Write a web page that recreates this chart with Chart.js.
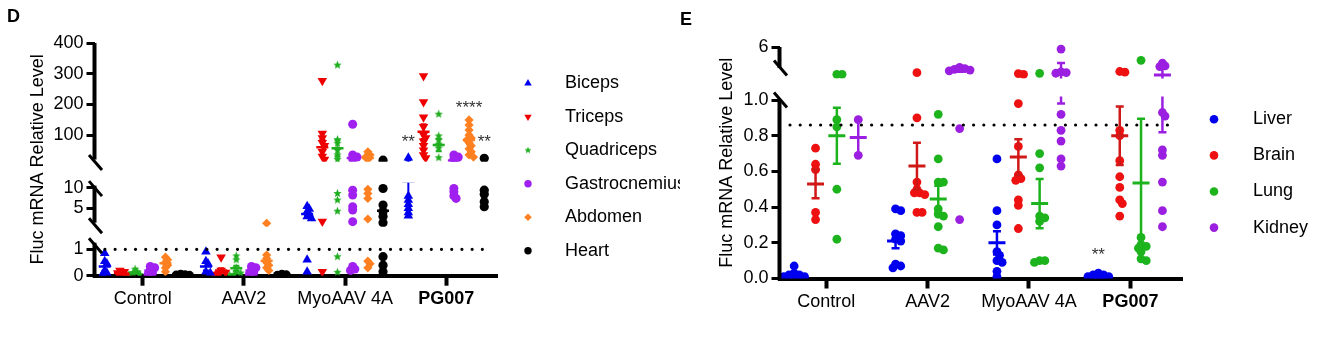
<!DOCTYPE html>
<html><head><meta charset="utf-8">
<script src="https://cdn.jsdelivr.net/npm/chart.js@4.4.1/dist/chart.umd.min.js"></script>
<style>
html,body{margin:0;padding:0;background:#fff;width:1331px;height:341px;overflow:hidden}
#pd{position:absolute;left:0;top:0;width:680px;height:341px;overflow:hidden}
#pe{position:absolute;left:680px;top:0;width:651px;height:341px;overflow:hidden}
canvas{display:block}
</style></head><body>
<div id="pd"><canvas id="cd" width="680" height="341"></canvas></div>
<div id="pe"><canvas id="ce" width="651" height="341"></canvas></div>
<script>
// ---------------- DATA ----------------
const categories = ['Control', 'AAV2', 'MyoAAV 4A', 'PG007'];
const yTitle = 'Fluc mRNA Relative Level';

// Panel D
const dSeries = ['Biceps', 'Triceps', 'Quadriceps', 'Gastrocnemius', 'Abdomen', 'Heart'];
const dTicks = [0, 1, 5, 10, 100, 200, 300, 400];
const dTickLabels = ['0', '1', '5', '10', '100', '200', '300', '400'];
const dThreshold = 1;
const dThresholdSpan = [-0.373, 3.43];
const dBiceps = [[0.85, 0.55, 0.45, 0.2, 0.1, 0.05], [0.91, 0.55, 0.45, 0.15, 0.1], [5.5, 4.8, 4.2, 3.6, 3.0, 2.5, 0.6, 0.15], [26, 8.0, 7.0, 6.0, 5.0, 4.0, 3.2]];
const dTriceps = [[0.2, 0.15, 0.1, 0.05, 0.03], [0.7, 0.2, 0.12, 0.08, 0.05], [277, 105, 90, 75, 65, 45, 30, 20, 1.8, 0.15], [292, 208, 158, 127, 100, 90, 80, 65, 50, 35, 25]];
const dQuadriceps = [[0.25, 0.15, 0.1, 0.05, 0.02], [0.75, 0.6, 0.3, 0.15, 0.1, 0.05, 0.03], [328, 85, 73, 50, 35, 20, 8.6, 7.0, 4.3, 0.72, 0.13], [168, 97, 84, 70, 57, 26]];
const dGastrocnemius = [[0.35, 0.3, 0.2, 0.1, 0.05], [0.35, 0.3, 0.2, 0.1, 0.05], [135, 35, 28, 22, 9.4, 8.2, 5.4, 4.6, 1.75, 0.35, 0.25, 0.2], [35, 28, 22, 9.8, 9.0, 8.0, 7.4]];
const dAbdomen = [[0.7, 0.6, 0.5, 0.4, 0.3, 0.15], [1.36, 0.78, 0.65, 0.5, 0.4, 0.3, 0.2], [45, 35, 28, 20, 9.6, 8.6, 7.4, 2.4, 0.55, 0.45, 0.3], [149, 133, 116, 100, 90, 84, 75, 65, 55, 45, 35, 28]];
const dHeart = [[0.05, 0.03, 0.02, 0.01], [0.05, 0.03, 0.01], [18, 9.8, 5.8, 4.2, 3.0, 1.5, 0.72, 0.4, 0.15], [24, 9.4, 8.4, 6.6, 5.4]];
const dMeanBiceps = [0.35, 0.35, 3.6, 11.5], dSemBiceps = [0.15, 0.15, 0.4, 6.0];
const dMeanTriceps = [0.1, 0.2, 60, 111], dSemTriceps = [0.03, 0.08, 24, 24];
const dMeanQuadriceps = [0.12, 0.28, 57, 67], dSemQuadriceps = [0.04, 0.1, 27, 20];
const dMeanGastrocnemius = [0.2, 0.2, 25, 17], dSemGastrocnemius = [0.05, 0.05, 5, 4];
const dMeanAbdomen = [0.47, 0.57, 25, 84], dSemAbdomen = [0.08, 0.1, 5, 15];
const dMeanHeart = [0.02, 0.02, 4.4, null], dSemHeart = [0.01, 0.01, 1.0, null];
const dSignifText = ['**', '****', '**'];
const dSignifGroup = [3, 3, 3];
const dSignifSeries = [0, 4, 5];
const dSignifValue = [90, 201, 90];

// Panel E
const eSeries = ['Liver', 'Brain', 'Lung', 'Kidney'];
const eTicks = [0, 0.2, 0.4, 0.6, 0.8, 1.0, 6];
const eTickLabels = ['0.0', '0.2', '0.4', '0.6', '0.8', '1.0', '6'];
const eThreshold = 0.86;
const eThresholdSpan = [-0.357, 3.44];
const eLiver = [[0.07, 0.03, 0.02, 0.02, 0.01, 0.01, 0.0], [0.39, 0.38, 0.25, 0.24, 0.22, 0.21, 0.08, 0.07, 0.06], [0.67, 0.38, 0.30, 0.15, 0.13, 0.10, 0.09, 0.04, 0.01], [0.03, 0.02, 0.02, 0.01, 0.01, 0.0]];
const eBrain = [[0.73, 0.64, 0.61, 0.37, 0.33], [2.33, 0.90, 0.54, 0.50, 0.48, 0.48, 0.47, 0.37, 0.37], [2.2, 2.1, 0.98, 0.74, 0.58, 0.56, 0.55, 0.44, 0.41, 0.28], [2.5, 2.4, 0.83, 0.80, 0.66, 0.57, 0.51, 0.44, 0.42, 0.35]];
const eLung = [[2.1, 2.1, 0.89, 0.85, 0.50, 0.22], [0.92, 0.67, 0.54, 0.54, 0.39, 0.36, 0.35, 0.29, 0.17, 0.16], [2.24, 0.70, 0.62, 0.35, 0.34, 0.32, 0.10, 0.10, 0.09], [4.1, 0.23, 0.19, 0.18, 0.17, 0.15, 0.11, 0.10]];
const eKidney = [[0.89, 0.69], [3.1, 2.9, 2.8, 2.7, 2.6, 0.84, 0.33], [5.7, 2.45, 2.35, 2.25, 0.92, 0.83, 0.77, 0.67, 0.63], [3.7, 3.3, 3.2, 0.93, 0.91, 0.72, 0.69, 0.54, 0.38, 0.29]];
const eMeanLiver = [0.02, 0.21, 0.20, 0.01], eSemLiver = [0.01, 0.04, 0.065, 0.005];
const eMeanBrain = [0.53, 0.63, 0.68, 0.80], eSemBrain = [0.08, 0.13, 0.10, 0.164];
const eMeanLung = [0.80, 0.445, 0.42, 0.535], eSemLung = [0.157, 0.075, 0.138, 0.36];
const eMeanKidney = [0.79, 2.75, 2.35, 2.0], eSemKidney = [0.10, 0.3, 1.37, 1.18];
const eSignifText = ['**'];
const eSignifGroup = [3];
const eSignifSeries = [0];
const eSignifValue = [0.154];

// ---------------- SCALE / LAYOUT CONFIG ----------------
const FONT = 'Arial, "Liberation Sans", sans-serif';
Chart.defaults.font.family = FONT;
Chart.defaults.font.size = 18;
Chart.defaults.color = '#000';
Chart.defaults.animation = false;

const SEGMENTS = {
  D: [
    {v0: 0, v1: 1, f0: 0, f1: 0.11345, from: -Infinity, to: 1.1, line: [0, 1.25], clip: [-5, 1.3]},
    {v0: 5, v1: 10, f0: 0.28964, f1: 0.37817, from: 1.1, to: 15, line: [1.5, 10.5], clip: [0.5, 11.2]},
    {v0: 100, v1: 400, f0: 0.60464, f1: 1, from: 15, to: Infinity, line: [20, 400], clip: [13, 5000]}
  ],
  E: [
    {v0: 0, v1: 1, f0: 0, f1: 0.771058, from: -Infinity, to: 1.5, line: [0, 1.0], clip: [-5, 1.02]},
    {v0: 3, v1: 6, f0: 0.909287, f1: 1, from: 1.5, to: Infinity, line: [3.0, 6], clip: [1.5, 100]}
  ]
};
const TICKS = {D: dTicks, E: eTicks};
const TICKLABELS = {D: dTickLabels, E: eTickLabels};

class BrokenScale extends Chart.LinearScale {
  _segs() { return SEGMENTS[this.options.segKey]; }
  _seg(v) { const S = this._segs(); for (const s of S) { if (v >= s.from && v < s.to) return s; } return S[S.length - 1]; }
  pixelIn(s, v) { return this.getPixelForDecimal(s.f0 + (v - s.v0) / (s.v1 - s.v0) * (s.f1 - s.f0)); }
  getPixelForValue(v) { if (v === null || v === undefined || isNaN(v)) return NaN; return this.pixelIn(this._seg(v), v); }
  getValueForPixel(p) {
    const f = this.getDecimalForPixel(p); const S = this._segs(); let s = S[0];
    for (const t of S) { if (f >= t.f0) s = t; }
    return s.v0 + (f - s.f0) / (s.f1 - s.f0) * (s.v1 - s.v0);
  }
  buildTicks() { return TICKS[this.options.segKey].map(v => ({value: v})); }
}
BrokenScale.id = 'broken';
BrokenScale.defaults = {};
Chart.register(BrokenScale);

function starCanvas(color, R) {
  const s = Math.ceil(R * 2) + 2;
  const c = document.createElement('canvas'); c.width = s; c.height = s;
  const g = c.getContext('2d'); g.fillStyle = color; g.beginPath();
  for (let k = 0; k < 10; k++) {
    const rr = k % 2 ? R * 0.45 : R; const a = -Math.PI / 2 + k * Math.PI / 5;
    g.lineTo(s / 2 + rr * Math.cos(a), s / 2 + rr * Math.sin(a));
  }
  g.closePath(); g.fill(); return c;
}

const GREEN_D = '#1fae1f';
const dStyles = [
  {color: '#0000ee', style: 'triangle', rot: 0, r: 5.5, legStyle: 'triangle', legR: 4.3},
  {color: '#ee0000', style: 'triangle', rot: 180, r: 5.5, legStyle: 'triangle', legR: 4.3},
  {color: GREEN_D, style: starCanvas(GREEN_D, 4.4), rot: 0, r: 4, legStyle: starCanvas(GREEN_D, 3.6), legR: 4},
  {color: '#a020f0', style: 'circle', rot: 0, r: 4.5, legStyle: 'circle', legR: 3.7},
  {color: '#ff8020', style: 'rectRot', rot: 0, r: 4.6, legStyle: 'rectRot', legR: 3.8},
  {color: '#000000', style: 'circle', rot: 0, r: 4.6, legStyle: 'circle', legR: 3.7}
];
const eStyles = [
  {color: '#0000ee', style: 'circle', rot: 0, r: 4.4, legStyle: 'circle', legR: 4.3},
  {color: '#ee1111', style: 'circle', rot: 0, r: 4.4, legStyle: 'circle', legR: 4.3, err: '#d01818'},
  {color: '#1db31d', style: 'circle', rot: 0, r: 4.4, legStyle: 'circle', legR: 4.3},
  {color: '#9b1fe0', style: 'circle', rot: 0, r: 4.4, legStyle: 'circle', legR: 4.3}
];

const PANEL_D = {
  key: 'D', names: dSeries,
  vals: [dBiceps, dTriceps, dQuadriceps, dGastrocnemius, dAbdomen, dHeart],
  means: [dMeanBiceps, dMeanTriceps, dMeanQuadriceps, dMeanGastrocnemius, dMeanAbdomen, dMeanHeart],
  sems: [dSemBiceps, dSemTriceps, dSemQuadriceps, dSemGastrocnemius, dSemAbdomen, dSemHeart],
  styles: dStyles, offsets: [-0.375, -0.225, -0.075, 0.075, 0.225, 0.375],
  threshold: dThreshold, thresholdSpan: dThresholdSpan,
  signif: {text: dSignifText, group: dSignifGroup, series: dSignifSeries, value: dSignifValue},
  meanR: 6, meanW: 2.5, capR: 3, barW: 2, swarm: {min: 3.2, step: 2.2},
  xMin: -0.476, xMax: 3.501, yMin: 0, yMax: 400,
  padding: {left: 0, top: 43, right: 183, bottom: 0}, yWidth: 94.5, xHeight: 65.3, titlePad: 27.7,
  letter: 'D', letterX: 7, letterY: 21.5,
  legMarkX: 528, legTextX: 565, legY: 83.3, legDy: 33.5,
  slash: {dx: 1, dy: 3, hx: 6.5, hy: 7.5, w: 3}, axisW: 4
};
const PANEL_E = {
  key: 'E', names: eSeries,
  vals: [eLiver, eBrain, eLung, eKidney],
  means: [eMeanLiver, eMeanBrain, eMeanLung, eMeanKidney],
  sems: [eSemLiver, eSemBrain, eSemLung, eSemKidney],
  styles: eStyles, offsets: [-0.316, -0.105, 0.105, 0.316],
  threshold: eThreshold, thresholdSpan: eThresholdSpan,
  signif: {text: eSignifText, group: eSignifGroup, series: eSignifSeries, value: eSignifValue},
  meanR: 8.5, meanW: 3, capR: 4, barW: 2.5, swarm: {min: 3.6, step: 2.6},
  xMin: -0.4606, xMax: 3.509, yMin: 0, yMax: 6,
  padding: {left: 0, top: 47, right: 149, bottom: 0}, yWidth: 99.5, xHeight: 62.5, titlePad: 36.2,
  letter: 'E', letterX: 0, letterY: 25,
  legMarkX: 534, legTextX: 573, legY: 119.3, legDy: 36.1,
  slash: {dx: 1, dy: 0, hx: 6.5, hy: 7.5, w: 3}, axisW: 4
};

// ---------------- PLUGINS ----------------
const swarmPlugin = {
  id: 'swarm',
  afterDatasetsUpdate(chart) {
    chart.data.datasets.forEach((ds, i) => {
      if (!ds.swarm) return;
      const meta = chart.getDatasetMeta(i);
      const groups = {};
      meta.data.forEach((el, j) => { const k = ds.data[j].x; (groups[k] = groups[k] || []).push(el); });
      const minD = ds.swarm.min, step = ds.swarm.step;
      Object.values(groups).forEach(els => {
        const sorted = els.slice().sort((a, b) => a.y - b.y);
        const placed = [];
        sorted.forEach(el => {
          const x0 = el.x;
          for (let k = 0; k < 30; k++) {
            const off = k === 0 ? 0 : (k % 2 ? 1 : -1) * Math.ceil(k / 2) * step;
            const ok = placed.every(p => (p.x - (x0 + off)) ** 2 + (p.y - el.y) ** 2 >= minD * minD);
            if (ok) { el.x = x0 + off; break; }
          }
          placed.push({x: el.x, y: el.y});
        });
      });
    });
  }
};

function brokenPlugin(P) {
  return {
    id: 'brokenAxis',
    beforeDatasetsDraw(chart) {
      const y = chart.scales.y, ctx = chart.ctx;
      ctx.save(); ctx.beginPath();
      for (const s of SEGMENTS[P.key]) {
        const a = y.pixelIn(s, s.clip[0]), b = y.pixelIn(s, s.clip[1]);
        ctx.rect(0, Math.min(a, b), chart.width, Math.abs(a - b));
      }
      ctx.clip();
    },
    afterDatasetsDraw(chart) {
      const ctx = chart.ctx, y = chart.scales.y, ax = chart.chartArea.left;
      ctx.restore();
      ctx.save(); ctx.strokeStyle = '#000'; ctx.lineWidth = P.axisW; ctx.lineCap = 'butt';
      const S = SEGMENTS[P.key];
      S.forEach((s, i) => {
        const p0 = y.pixelIn(s, s.line[0]) + (i === 0 ? P.axisW / 2 : 0), p1 = y.pixelIn(s, s.line[1]);
        ctx.beginPath(); ctx.moveTo(ax, p0); ctx.lineTo(ax, p1); ctx.stroke();
      });
      const sl = P.slash; ctx.lineWidth = sl.w;
      S.forEach((s, i) => {
        const ends = [];
        if (i > 0) ends.push(y.pixelIn(s, s.line[0]));
        if (i < S.length - 1) ends.push(y.pixelIn(s, s.line[1]));
        ends.forEach(p => {
          ctx.beginPath();
          ctx.moveTo(ax + sl.dx - sl.hx, p + sl.dy - sl.hy);
          ctx.lineTo(ax + sl.dx + sl.hx, p + sl.dy + sl.hy);
          ctx.stroke();
        });
      });
      ctx.restore();
    }
  };
}

function decorPlugin(P) {
  return {
    id: 'decor',
    afterDraw(chart) {
      const ctx = chart.ctx, xs = chart.scales.x, ys = chart.scales.y;
      ctx.save();
      ctx.fillStyle = '#000'; ctx.textAlign = 'left'; ctx.textBaseline = 'alphabetic';
      ctx.font = 'bold 18px ' + FONT;
      ctx.fillText(P.letter, P.letterX, P.letterY);
      ctx.font = '18px ' + FONT; ctx.textBaseline = 'middle';
      P.names.forEach((name, i) => {
        const st = P.styles[i], yy = P.legY + i * P.legDy;
        ctx.fillStyle = st.color; ctx.strokeStyle = st.color;
        Chart.helpers.drawPoint(ctx, {pointStyle: st.legStyle, rotation: st.rot, radius: st.legR, borderWidth: 0}, P.legMarkX, yy);
        ctx.fillStyle = '#000';
        ctx.fillText(name, P.legTextX, yy);
      });
      const sg = P.signif;
      ctx.font = '17px ' + FONT; ctx.fillStyle = '#333'; ctx.textAlign = 'center';
      sg.text.forEach((t, i) => {
        const x = xs.getPixelForValue(sg.group[i] + P.offsets[sg.series[i]]);
        const y = ys.getPixelForValue(sg.value[i]);
        ctx.fillText(t, x, y + 4);
      });
      ctx.restore();
    }
  };
}

function buildDatasets(P) {
  const clip = {left: 10, top: 10, right: 10, bottom: 0};
  const pts = [], means = [], errs = [];
  P.vals.forEach((groups, s) => {
    const st = P.styles[s], off = P.offsets[s], ec = st.err || st.color;
    const data = [];
    groups.forEach((arr, g) => arr.forEach(v => data.push({x: g + off, y: v})));
    pts.push({label: P.names[s], data, showLine: false, pointStyle: st.style, pointRotation: st.rot,
      pointRadius: st.r, pointBackgroundColor: st.color, pointBorderColor: st.color, pointBorderWidth: 0,
      swarm: P.swarm, clip});
    const md = [], ed = [];
    P.means[s].forEach((m, g) => {
      if (m === null) return;
      const sd = P.sems[s][g];
      md.push({x: g + off, y: m});
      ed.push({x: g + off, y: m - sd}, {x: g + off, y: m + sd}, {x: g + off, y: null});
    });
    means.push({data: md, showLine: false, pointStyle: 'line', pointRadius: P.meanR,
      pointBorderWidth: P.meanW, pointBorderColor: ec, clip});
    errs.push({data: ed, showLine: true, spanGaps: false, borderColor: ec, borderWidth: P.barW,
      pointStyle: 'line', pointRadius: P.capR, pointBorderWidth: P.barW, pointBorderColor: ec, clip});
  });
  const thr = {data: [{x: P.thresholdSpan[0], y: P.threshold}, {x: P.thresholdSpan[1], y: P.threshold}],
    showLine: true, borderColor: '#000', borderWidth: 3.2, borderDash: [0, 10.2], borderCapStyle: 'round',
    pointRadius: 0, clip: false};
  return [...means, ...errs, thr, ...pts];
}

function makeChart(id, P) {
  return new Chart(document.getElementById(id), {
    type: 'scatter',
    data: {datasets: buildDatasets(P)},
    options: {
      responsive: false, animation: false, events: [],
      layout: {padding: P.padding},
      plugins: {legend: {display: false}, tooltip: {enabled: false}},
      scales: {
        x: {
          type: 'linear', min: P.xMin, max: P.xMax,
          afterBuildTicks: s => { s.ticks = categories.map((c, i) => ({value: i})); },
          afterFit: s => { s.height = P.xHeight; },
          ticks: {autoSkip: false, maxRotation: 0, minRotation: 0, padding: 3, color: '#000',
            callback: v => categories[v],
            font: c => ({size: 18, family: FONT, weight: (c.tick && c.tick.value === 3) ? 'bold' : 'normal'})},
          grid: {display: true, drawOnChartArea: false, drawTicks: true, tickLength: 10, tickWidth: 4, tickColor: '#000'},
          border: {display: true, width: 4, color: '#000'}
        },
        y: {
          type: 'broken', segKey: P.key, min: P.yMin, max: P.yMax,
          afterFit: s => { s.width = P.yWidth; },
          ticks: {autoSkip: false, padding: 3, color: '#000', font: {size: 18, family: FONT},
            callback: (v, i) => TICKLABELS[P.key][i]},
          grid: {display: true, drawOnChartArea: false, drawTicks: true, tickLength: 8, tickWidth: 3, tickColor: '#000'},
          border: {display: false},
          title: {display: true, text: yTitle, color: '#000', font: {size: 18, family: FONT, lineHeight: 1.2},
            padding: {top: P.titlePad, bottom: 0}}
        }
      }
    },
    plugins: [swarmPlugin, brokenPlugin(P), decorPlugin(P)]
  });
}

makeChart('cd', PANEL_D);
makeChart('ce', PANEL_E);
</script>
</body></html>
